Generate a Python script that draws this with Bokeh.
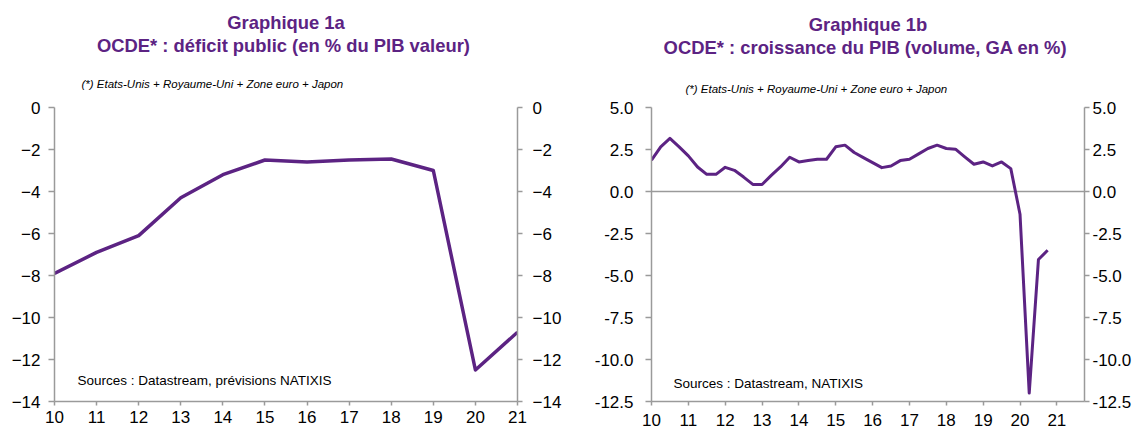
from bokeh.plotting import figure
from bokeh.models import Range1d, LinearAxis, FixedTicker, Label, Span, NumeralTickFormatter, Title
from bokeh.layouts import row
from bokeh.embed import file_html
from bokeh.resources import INLINE

# ---------------- data ----------------
years_a = [2010, 2011, 2012, 2013, 2014, 2015, 2016, 2017, 2018, 2019, 2020, 2021]
deficit = [-7.9, -6.9, -6.1, -4.3, -3.2, -2.5, -2.6, -2.5, -2.45, -3.0, -12.5, -10.7]
year_labels = ["10", "11", "12", "13", "14", "15", "16", "17", "18", "19", "20", "21"]
yticks_a = [0, -2, -4, -6, -8, -10, -12, -14]

quarters = [f"{y}Q{q}" for y in range(2010, 2021) for q in (1, 2, 3, 4)]
growth = [1.86, 2.66, 3.16, 2.66,
          2.12, 1.46, 1.02, 1.02,
          1.44, 1.26, 0.86, 0.42,
          0.42, 0.96, 1.46, 2.04,
          1.76, 1.84, 1.92, 1.92,
          2.66, 2.76, 2.32, 2.02,
          1.72, 1.42, 1.52, 1.84,
          1.92, 2.24, 2.56, 2.76,
          2.56, 2.52, 2.06, 1.62,
          1.76, 1.52, 1.76, 1.36,
          -1.35, -12.0, -4.05, -3.5]
yticks_b = [5.0, 2.5, 0.0, -2.5, -5.0, -7.5, -10.0, -12.5]

title_a = ["Graphique 1a", "OCDE*  : déficit public (en % du PIB valeur)"]
title_b = ["Graphique 1b", "OCDE*  : croissance du PIB (volume, GA en %)"]
footnote = "(*) Etats-Unis + Royaume-Uni + Zone euro + Japon"
source_a = "Sources : Datastream, prévisions NATIXIS"
source_b = "Sources : Datastream, NATIXIS"

# quarter -> decimal year position
xq = [int(s[:4]) + (int(s[5]) - 1) / 4 for s in quarters]

PURPLE = "#5c2383"
GRAY = "#9a9a9a"
FONT = "Liberation Sans"


def style_axis(ax, ticks, tick_out=5, standoff=8, labels=None):
    ax.ticker = FixedTicker(ticks=ticks)
    ax.axis_line_color = GRAY
    ax.axis_line_width = 1.5
    ax.major_tick_line_color = GRAY
    ax.major_tick_line_width = 1.5
    ax.major_tick_in = 0
    ax.major_tick_out = tick_out
    ax.minor_tick_line_color = None
    ax.major_label_text_font = FONT
    ax.major_label_text_font_size = "17px"
    ax.major_label_text_color = "#000000"
    ax.major_label_standoff = standoff
    if labels is not None:
        ax.major_label_overrides = {t: l for t, l in zip(ticks, labels)}


def spacer(p, font_px, standoff=0):
    p.add_layout(Title(text=" ", text_font=FONT, text_font_size=f"{font_px}px",
                       standoff=standoff, vertical_align="middle"), "above")


def add_texts(p, titles, sp_top, sp_mid, foot_standoff, foot_offset, src, src_pos):
    # panels are stacked from the frame upwards
    p.add_layout(Title(text=footnote, text_font=FONT, text_font_size="11.5px",
                       text_font_style="italic", text_color="#000000",
                       align="left", offset=foot_offset, vertical_align="middle",
                       standoff=foot_standoff), "above")
    spacer(p, sp_mid)
    p.add_layout(Title(text=titles[1], text_font=FONT, text_font_size="18.4px",
                       text_font_style="bold", text_color=PURPLE,
                       align="center", vertical_align="middle", standoff=0), "above")
    p.add_layout(Title(text=titles[0], text_font=FONT, text_font_size="18.4px",
                       text_font_style="bold", text_color=PURPLE,
                       align="center", vertical_align="middle", standoff=0), "above")
    spacer(p, sp_top)
    p.add_layout(Label(x=src_pos[0], y=src_pos[1], x_units="screen", y_units="screen",
                       text=src, text_font=FONT, text_font_size="13.5px",
                       text_color="#000000", text_align="left", text_baseline="middle"))


def base_fig(width, xr, yr, ml, mr, mb):
    p = figure(width=width, height=434, x_range=xr, y_range=yr,
               output_backend="svg", toolbar_location=None, title_location=None,
               min_border_left=ml, min_border_right=mr,
               min_border_top=0, min_border_bottom=mb)
    p.outline_line_color = None
    p.xgrid.visible = False
    p.ygrid.visible = False
    p.background_fill_color = "white"
    p.border_fill_color = "white"
    return p


# ---------------- chart 1a ----------------
p1 = base_fig(570, Range1d(2010, 2021), Range1d(-14, 0), 54, 53, 30)
style_axis(p1.xaxis[0], years_a, tick_out=4, standoff=5, labels=year_labels)
style_axis(p1.yaxis[0], yticks_a, tick_out=6, standoff=8)
r1 = LinearAxis()
p1.add_layout(r1, "right")
style_axis(r1, yticks_a, tick_out=5, standoff=10)
p1.line(years_a, deficit, line_color=PURPLE, line_width=3.5, line_join="round")
add_texts(p1, title_a, 6.5, 1, 34, 27, source_a, (23, 21))

# ---------------- chart 1b ----------------
p2 = base_fig(571, Range1d(2010, 2021.75), Range1d(-12.5, 5), 81, 57, 33)
style_axis(p2.xaxis[0], years_a, tick_out=4, standoff=8, labels=year_labels)
style_axis(p2.yaxis[0], yticks_b, tick_out=6, standoff=12)
p2.yaxis[0].formatter = NumeralTickFormatter(format="0.0")
r2 = LinearAxis()
p2.add_layout(r2, "right")
style_axis(r2, yticks_b, tick_out=5, standoff=3)
r2.formatter = NumeralTickFormatter(format="0.0")
zero = Span(location=0, dimension="width", line_color=GRAY, line_width=1.5, level="underlay")
p2.add_layout(zero)
p2.line(xq, growth, line_color=PURPLE, line_width=3, line_join="round")
add_texts(p2, title_b, 8.9, 8.6, 23, 34, source_b, (22, 18))

layout = row(p1, p2)
open("out.html", "w").write(file_html(layout, INLINE))
